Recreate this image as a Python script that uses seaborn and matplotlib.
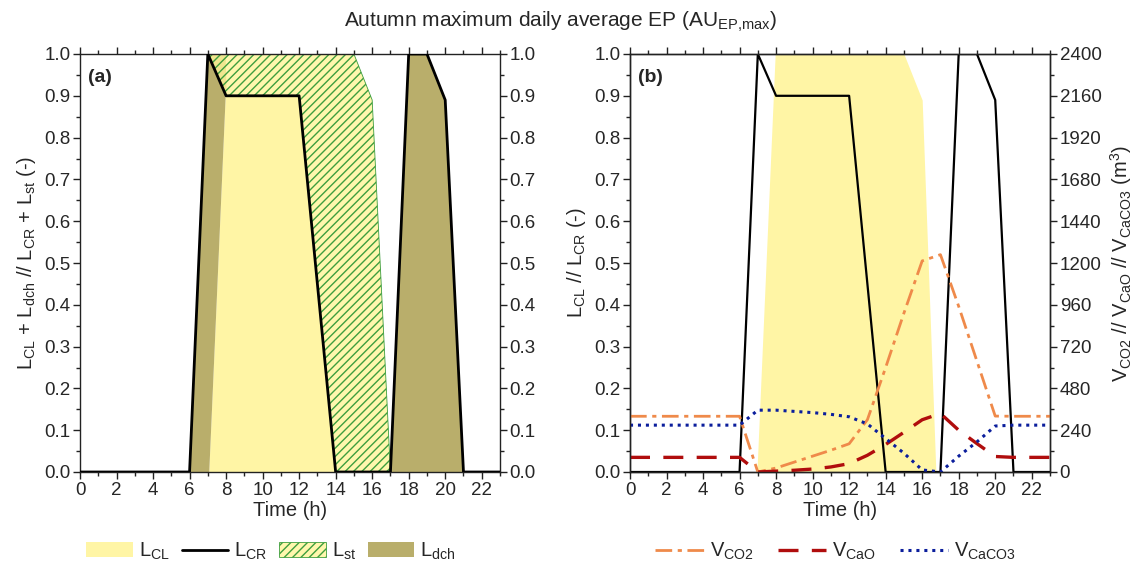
import numpy as np
import pandas as pd
import matplotlib
matplotlib.use("Agg")
import matplotlib.pyplot as plt
from matplotlib.patches import Patch
from matplotlib.lines import Line2D
from matplotlib.ticker import MultipleLocator
import seaborn as sns

# ---------------- data ----------------
# L_CR (black line), both panels
cr_t = [0, 6, 7, 8, 12, 14, 17, 18, 19, 20, 21, 23]
cr_v = [0, 0, 1.0, 0.9, 0.9, 0, 0, 1.0, 1.0, 0.89, 0, 0]

# panel (a) areas
cl_t = [7.05, 7.95, 12, 14]
cl_v = [0, 0.9, 0.9, 0]

dch1_t = [6, 7, 7.05, 7.95, 8]
dch1_lo = [0, 0, 0, 0.9, 0.9]
dch1_hi = [0, 1.0, 1.0, 1.0, 0.9]
dch2_t = [17, 18, 19, 20, 21]
dch2_v = [0, 1.0, 1.0, 0.89, 0]

st_t = [7, 8, 12, 14, 15, 16, 17]
st_lo = [1.0, 0.9, 0.9, 0, 0, 0, 0]
st_hi = [1.0, 1.0, 1.0, 1.0, 1.0, 0.89, 0]

# panel (b) L_CL area
clb_t = [6.95, 7.95, 15.0, 16.0, 16.75]
clb_v = [0, 1.0, 1.0, 0.89, 0]

# panel (b) volumes (m3)
hours = list(range(24))
v_co2 = [320, 320, 320, 320, 320, 320, 320, 0, 23, 57, 91, 125, 162, 300,
         600, 912, 1212, 1248, 951, 636, 321, 320, 320, 320]
v_cao = [84, 84, 84, 84, 84, 84, 84, 0, 5, 10, 17, 29, 48, 96,
         158, 228, 300, 336, 240, 163, 89, 84, 84, 84]
v_caco3 = [269, 269, 269, 269, 269, 269, 269, 355, 355, 348, 341, 331, 317, 276,
           192, 108, 12, 0, 91, 173, 264, 269, 269, 269]

# ---------------- style ----------------
sns.set_theme(style="ticks")
plt.rcParams['font.family'] = ['Liberation Sans', 'DejaVu Sans']
plt.rcParams['mathtext.default'] = 'regular'
plt.rcParams['hatch.linewidth'] = 1.0

YEL = '#FFF5A5'
OLIVE = '#B9AE6B'
GREEN = '#3E9E3E'
ORANGE = '#EF8A4A'
DRED = '#B00D0D'
BLUE = '#0B1E9C'
HATCH_FACE = (1.0, 0.96, 0.6, 0.8)

FS_T = 13.5
FS_L = 14.5

fig = plt.figure(figsize=(11.38, 5.66), dpi=100)
axa = fig.add_axes([80/1138, 1-472/566, 420/1138, 418/566])
axb = fig.add_axes([630/1138, 1-472/566, 420/1138, 418/566])


def style_axis(ax):
    ax.set_xlim(0, 23)
    ax.set_ylim(0, 1.0)
    ax.xaxis.set_major_locator(MultipleLocator(2))
    ax.xaxis.set_minor_locator(MultipleLocator(1))
    ax.yaxis.set_major_locator(MultipleLocator(0.1))
    ax.yaxis.set_minor_locator(MultipleLocator(0.05))
    ax.yaxis.set_major_formatter(matplotlib.ticker.FormatStrFormatter('%.1f'))
    ax.tick_params(which='both', direction='out', top=True, right=True,
                   labelsize=FS_T, color='#222222', width=1.0)
    ax.tick_params(which='major', length=5, pad=2)
    ax.tick_params(which='minor', length=3)
    for s in ax.spines.values():
        s.set_linewidth(1.0)
        s.set_color('#222222')
    ax.set_xlabel('Time (h)', fontsize=FS_L, labelpad=2)


# ---------------- panel (a) ----------------
axa.fill_between(cl_t, 0, cl_v, color=YEL, lw=0, zorder=1)
axa.fill_between(dch1_t, dch1_lo, dch1_hi, color=OLIVE, lw=0, zorder=1)
axa.fill_between(dch2_t, 0, dch2_v, color=OLIVE, lw=0, zorder=1)
axa.fill_between(st_t, st_lo, st_hi, facecolor=HATCH_FACE,
                 edgecolor=GREEN, hatch='////', lw=0.6, zorder=2)
sns.lineplot(x=cr_t, y=cr_v, ax=axa, color='black', lw=2.0, estimator=None,
             sort=False, zorder=3)
style_axis(axa)
axa.tick_params(labelright=True)
axa.set_ylabel(r'$L_{CL}$ + $L_{dch}$ // $L_{CR}$ + $L_{st}$ (-)', fontsize=FS_L, labelpad=4)
axa.text(0.02, 0.965, '(a)', transform=axa.transAxes, fontsize=14, fontweight='bold',
         va='top', ha='left')

hatch_patch = Patch(facecolor=HATCH_FACE, edgecolor=GREEN, hatch='////', lw=0.6)
handles_a = [Patch(facecolor=YEL, edgecolor='none'),
             Line2D([], [], color='black', lw=2),
             hatch_patch,
             Patch(facecolor=OLIVE, edgecolor='none')]
labels_a = [r'$L_{CL}$', r'$L_{CR}$', r'$L_{st}$', r'$L_{dch}$']
axa.legend(handles_a, labels_a, loc='center', bbox_to_anchor=(0.455, -0.19), ncol=4,
           frameon=False, fontsize=FS_L, handlelength=2.3, handleheight=0.75,
           handletextpad=0.3, columnspacing=0.6)

# ---------------- panel (b) ----------------
axb.fill_between(clb_t, 0, clb_v, color=YEL, lw=0, zorder=1)
sns.lineplot(x=cr_t, y=cr_v, ax=axb, color='black', lw=1.6, estimator=None,
             sort=False, zorder=3)
style_axis(axb)
axb.tick_params(which='both', right=False)
axb.set_ylabel(r'$L_{CL}$ // $L_{CR}$ (-)', fontsize=FS_L, labelpad=4)
axb.text(0.02, 0.965, '(b)', transform=axb.transAxes, fontsize=14, fontweight='bold',
         va='top', ha='left')

ax2 = axb.twinx()
df = pd.DataFrame({'t': hours, 'co2': v_co2, 'cao': v_cao, 'caco3': v_caco3})
sns.lineplot(data=df, x='t', y='co2', ax=ax2, color=ORANGE, lw=2.0,
             linestyle=(0, (6, 2, 1.5, 2)), estimator=None)
sns.lineplot(data=df, x='t', y='cao', ax=ax2, color=DRED, lw=2.4,
             linestyle=(0, (6, 4)), estimator=None)
sns.lineplot(data=df, x='t', y='caco3', ax=ax2, color=BLUE, lw=2.2,
             linestyle=(0, (1, 1.6)), estimator=None)
ax2.set_ylim(0, 2400)
ax2.set_xlim(0, 23)
ax2.yaxis.set_major_locator(MultipleLocator(240))
ax2.yaxis.set_minor_locator(MultipleLocator(120))
ax2.tick_params(which='both', direction='out', labelsize=FS_T, color='#222222', width=1.0)
ax2.tick_params(which='major', length=5, pad=2)
ax2.tick_params(which='minor', length=3)
for s in ax2.spines.values():
    s.set_linewidth(1.0)
    s.set_color('#222222')
ax2.set_ylabel(r'$V_{CO2}$ // $V_{CaO}$ // $V_{CaCO3}$ (m$^3$)', fontsize=FS_L,
               rotation=90, labelpad=5)

handles_b = [Line2D([], [], color=ORANGE, lw=2.0, linestyle=(0, (6, 2, 1.5, 2))),
             Line2D([], [], color=DRED, lw=2.4, linestyle=(0, (6, 4))),
             Line2D([], [], color=BLUE, lw=2.2, linestyle=(0, (1, 1.6)))]
labels_b = [r'$V_{CO2}$', r'$V_{CaO}$', r'$V_{CaCO3}$']
axb.legend(handles_b, labels_b, loc='center', bbox_to_anchor=(0.49, -0.19), ncol=3,
           frameon=False, fontsize=FS_L, handlelength=2.4, handletextpad=0.3,
           columnspacing=1.2)

fig.text(0.493, 0.962, r'Autumn maximum daily average EP (AU$_{EP{,}max}$)',
         ha='center', va='center', fontsize=15)

fig.savefig('out.png', dpi=100)
